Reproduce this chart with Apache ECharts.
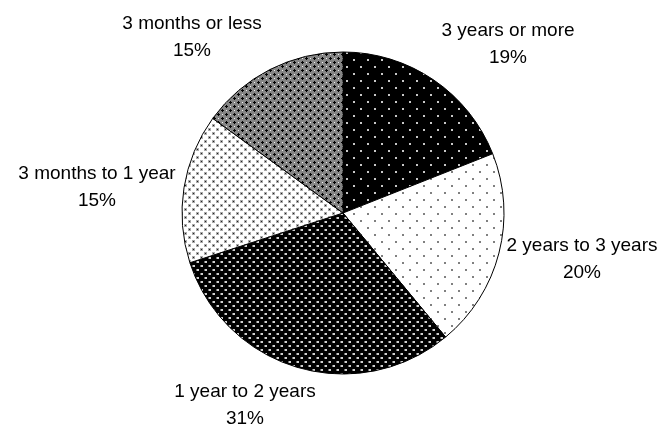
<!DOCTYPE html>
<html>
<head>
<meta charset="utf-8">
<script src="https://cdn.jsdelivr.net/npm/echarts@6/dist/echarts.min.js"></script>
<style>
  html, body { margin: 0; padding: 0; background: #fff; }
  #chart { width: 670px; height: 426px; }
</style>
</head>
<body>
<div id="chart"></div>
<script>
// Share of respondents by duration
const categories = ['3 years or more', '2 years to 3 years', '1 year to 2 years', '3 months to 1 year', '3 months or less'];
const shares = [19, 20, 31, 15, 15];

// Label centres (px) for each slice, in category order
const labelCentres = [[508, 44], [582, 259], [245, 405], [97, 187], [192, 37]];

// Build a repeating fill tile on a small canvas
function tile(w, h, draw) {
  const c = document.createElement('canvas');
  c.width = w; c.height = h;
  const g = c.getContext('2d');
  draw(g);
  return { image: c, repeat: 'repeat' };
}

const fills = [
  // black with sparse light dots
  tile(14, 14, g => {
    g.fillStyle = '#000'; g.fillRect(0, 0, 14, 14);
    g.fillStyle = '#c8c8c8';
    g.fillRect(3, 3, 2, 2); g.fillRect(10, 10, 2, 2);
  }),
  // white with sparse grey dots
  tile(14, 14, g => {
    g.fillStyle = '#fff'; g.fillRect(0, 0, 14, 14);
    g.fillStyle = '#808080';
    g.fillRect(3, 3, 2, 2); g.fillRect(10, 10, 2, 2);
  }),
  // black with dense light squares
  tile(8, 8, g => {
    g.fillStyle = '#000'; g.fillRect(0, 0, 8, 8);
    g.fillStyle = '#d0d0d0';
    g.fillRect(1, 1, 2, 2); g.fillRect(5, 5, 2, 2);
    g.fillStyle = '#6a6a6a';
    g.fillRect(0, 1, 1, 2); g.fillRect(4, 5, 1, 2);
  }),
  // white with dense dark specks
  tile(8, 8, g => {
    g.fillStyle = '#fff'; g.fillRect(0, 0, 8, 8);
    g.fillStyle = '#aaa';
    g.fillRect(0, 0, 3, 3); g.fillRect(4, 4, 3, 3);
    g.fillStyle = '#222';
    g.fillRect(1, 1, 1, 1); g.fillRect(5, 5, 1, 1);
  }),
  // grey lattice
  tile(8, 8, g => {
    g.fillStyle = '#858585'; g.fillRect(0, 0, 8, 8);
    g.fillStyle = '#000';
    g.fillRect(1, 2, 3, 1); g.fillRect(2, 1, 1, 3);
    g.fillRect(5, 6, 3, 1); g.fillRect(6, 5, 1, 3);
    g.fillStyle = '#f0f0f0';
    g.fillRect(6, 2, 1, 1); g.fillRect(2, 6, 1, 1);
  })
];

const chart = echarts.init(document.getElementById('chart'), null, { renderer: 'canvas' });

chart.setOption({
  backgroundColor: '#ffffff',
  animation: false,
  series: [{
    type: 'pie',
    center: [343, 213],
    radius: 161,
    startAngle: 90,
    clockwise: true,
    avoidLabelOverlap: false,
    data: categories.map((name, i) => ({
      name: name,
      value: shares[i],
      itemStyle: { color: fills[i] }
    })),
    itemStyle: { borderColor: '#000', borderWidth: 1 },
    emphasis: { disabled: true },
    label: {
      show: true,
      position: 'outside',
      formatter: p => p.name + '\n' + p.value + '%',
      fontFamily: 'Liberation Sans, Arial, sans-serif',
      fontSize: 19,
      lineHeight: 27,
      color: '#000',
      align: 'center'
    },
    labelLine: { show: false },
    labelLayout: p => ({
      x: labelCentres[p.dataIndex][0],
      y: labelCentres[p.dataIndex][1],
      align: 'center',
      verticalAlign: 'middle'
    })
  }]
});
</script>
</body>
</html>
